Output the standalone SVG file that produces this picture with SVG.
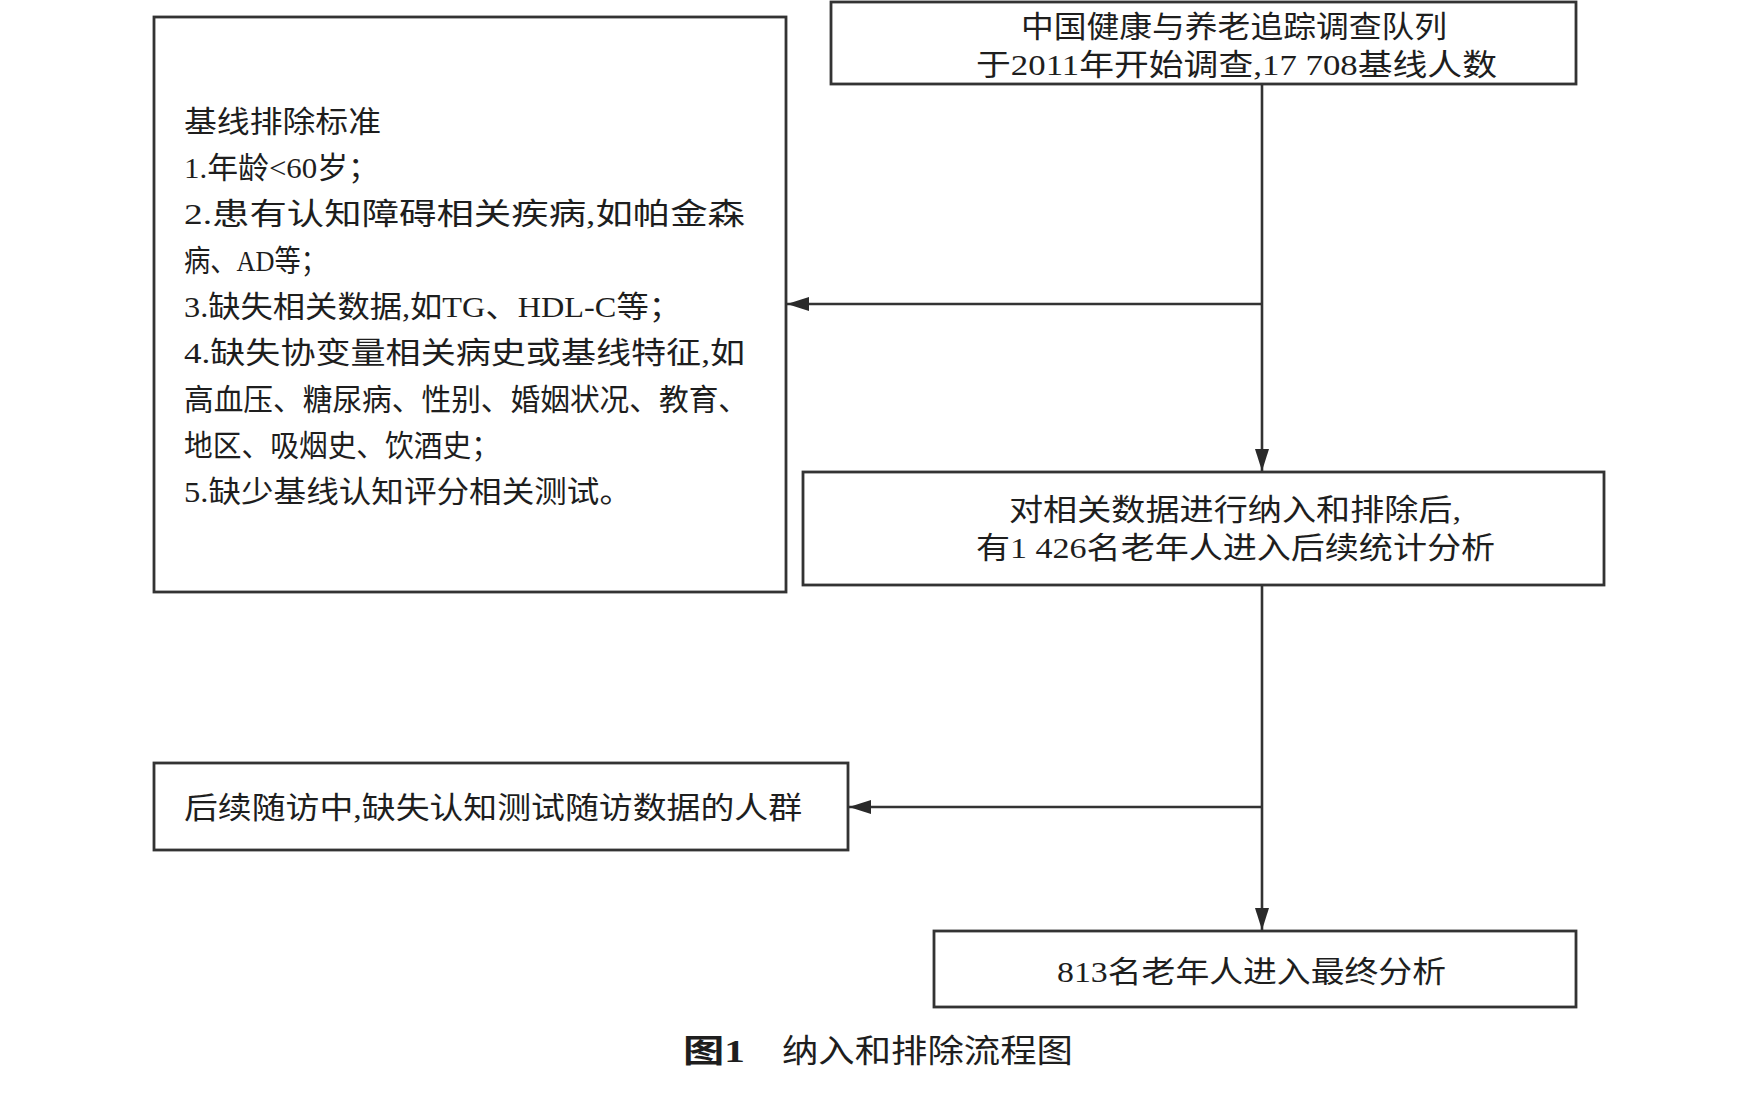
<svg xmlns="http://www.w3.org/2000/svg" width="1759" height="1110" viewBox="0 0 1759 1110">
<defs>
<style>
.box{fill:#fff;stroke:#333;stroke-width:2.8}
.t{font-family:"Liberation Serif","Noto Sans CJK SC",serif;font-size:30px;fill:#1e1e1e}
.cap{font-family:"Liberation Serif","Noto Sans CJK SC",serif;font-size:32px;fill:#1e1e1e}
.ln{fill:none;stroke:#333;stroke-width:2.6}
</style>
<marker id="ah" markerWidth="22" markerHeight="16" refX="22" refY="8" orient="auto" markerUnits="userSpaceOnUse">
<path d="M0,1 L22,8 L0,15 Z" fill="#2a2a2a"/>
</marker>
</defs>
<rect width="1759" height="1110" fill="#fff"/>
<g id="connectors">
<path class="ln" d="M1262,84 V471" marker-end="url(#ah)"/>
<path class="ln" d="M1262,304 H787" marker-end="url(#ah)"/>
<path class="ln" d="M1262,585 V930" marker-end="url(#ah)"/>
<path class="ln" d="M1262,807 H849" marker-end="url(#ah)"/>
</g>
<g id="node-cohort">
<rect class="box" x="831" y="2" width="745" height="82"/>
<text class="t" x="1021" y="37" textLength="426" lengthAdjust="spacingAndGlyphs">中国健康与养老追踪调查队列</text>
<text class="t" x="976" y="75" textLength="521" lengthAdjust="spacingAndGlyphs">于2011年开始调查,17 708基线人数</text>
</g>
<g id="node-exclusion">
<rect class="box" x="154" y="17" width="632" height="575"/>
<text class="t" x="184" y="132" textLength="197" lengthAdjust="spacingAndGlyphs">基线排除标准</text>
<text class="t" x="184" y="178" textLength="195" lengthAdjust="spacingAndGlyphs">1.年龄&lt;60岁；</text>
<text class="t" x="184" y="224" textLength="561" lengthAdjust="spacingAndGlyphs">2.患有认知障碍相关疾病,如帕金森</text>
<text class="t" x="184" y="271" textLength="143" lengthAdjust="spacingAndGlyphs">病、AD等；</text>
<text class="t" x="184" y="317" textLength="497" lengthAdjust="spacingAndGlyphs">3.缺失相关数据,如TG、HDL-C等；</text>
<text class="t" x="184" y="363" textLength="561" lengthAdjust="spacingAndGlyphs">4.缺失协变量相关病史或基线特征,如</text>
<text class="t" x="184" y="410" textLength="564" lengthAdjust="spacingAndGlyphs">高血压、糖尿病、性别、婚姻状况、教育、</text>
<text class="t" x="184" y="456" textLength="316" lengthAdjust="spacingAndGlyphs">地区、吸烟史、饮酒史；</text>
<text class="t" x="184" y="502" textLength="448" lengthAdjust="spacingAndGlyphs">5.缺少基线认知评分相关测试。</text>
</g>
<g id="node-included">
<rect class="box" x="803" y="472" width="801" height="113"/>
<text class="t" x="1009" y="520" textLength="452" lengthAdjust="spacingAndGlyphs">对相关数据进行纳入和排除后,</text>
<text class="t" x="976" y="558" textLength="519" lengthAdjust="spacingAndGlyphs">有1 426名老年人进入后续统计分析</text>
</g>
<g id="node-followup">
<rect class="box" x="154" y="763" width="694" height="87"/>
<text class="t" x="184" y="818" textLength="618" lengthAdjust="spacingAndGlyphs">后续随访中,缺失认知测试随访数据的人群</text>
</g>
<g id="node-final">
<rect class="box" x="934" y="931" width="642" height="76"/>
<text class="t" x="1057" y="982" textLength="389" lengthAdjust="spacingAndGlyphs">813名老年人进入最终分析</text>
</g>
<g id="caption">
<text class="cap" x="683" y="1062" font-weight="bold" textLength="62" lengthAdjust="spacingAndGlyphs">图1</text>
<text class="cap" x="782" y="1062" textLength="291" lengthAdjust="spacingAndGlyphs">纳入和排除流程图</text>
</g>
</svg>
